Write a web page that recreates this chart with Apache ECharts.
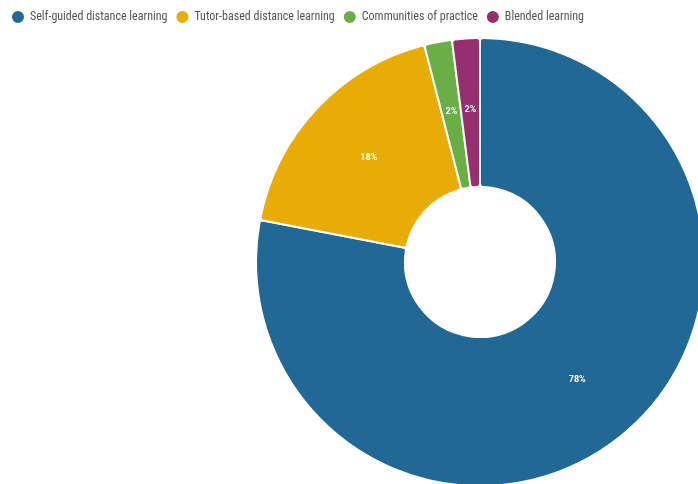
<!DOCTYPE html>
<html><head><meta charset="utf-8">
<script src="https://cdn.jsdelivr.net/npm/echarts@6/dist/echarts.min.js"></script>
<style>html,body{margin:0;padding:0;background:#fff}#c{width:698px;height:484px}</style>
</head><body><div id="c"></div>
<script>
const categories = ["Self-guided distance learning", "Tutor-based distance learning", "Communities of practice", "Blended learning"];
const values = [78, 18, 2, 2];
const colors = ["#216895", "#e9ab06", "#6aaf46", "#952f6e"];

const chart = echarts.init(document.getElementById('c'), null, {renderer: 'canvas'});
chart.setOption({
  animation: false,
  color: colors,
  legend: {
    top: 9, left: 10, padding: 0,
    icon: 'circle', itemWidth: 14, itemHeight: 14, itemGap: 7,
    textStyle: {fontFamily: '"Roboto Condensed", "Liberation Sans Narrow", Roboto', fontSize: 12, color: '#555'},
    data: categories
  },
  series: [{
    type: 'pie',
    center: [480, 262],
    radius: [75, 224],
    startAngle: 90,
    clockwise: true,
    avoidLabelOverlap: false,
    itemStyle: {borderColor: '#fff', borderWidth: 2, borderRadius: 3},
    label: {
      position: 'inside', formatter: '{d}%', color: '#fff',
      fontFamily: 'Roboto', fontWeight: 'bold', fontSize: 9
    },
    labelLine: {show: false},
    data: categories.map((n, i) => ({name: n, value: values[i]}))
  }]
});
</script></body></html>
